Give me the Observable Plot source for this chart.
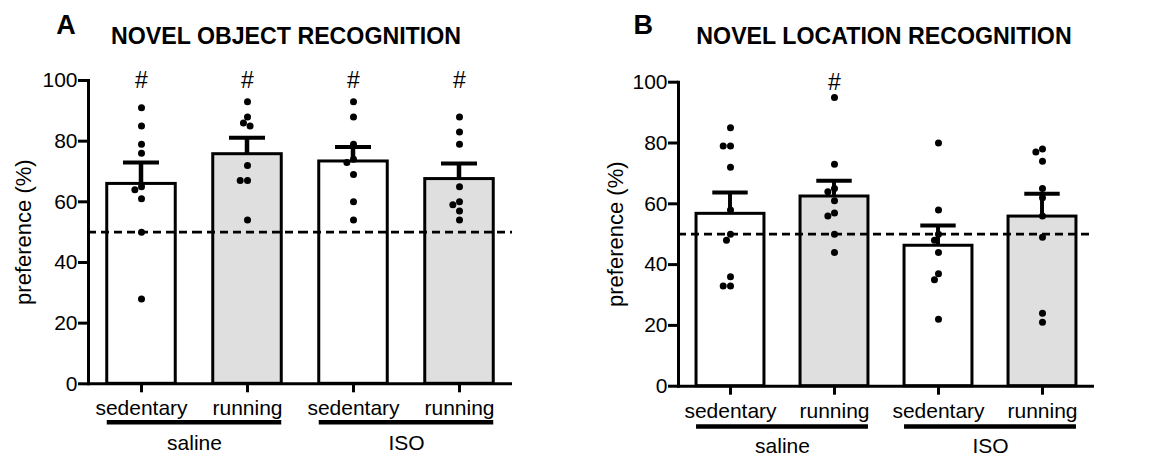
<!DOCTYPE html>
<html>
<head>
<meta charset="utf-8">
<script src="https://cdn.jsdelivr.net/npm/d3@7"></script>
<script src="https://cdn.jsdelivr.net/npm/@observablehq/plot@0.6"></script>
<style>
  body { margin: 0; background: #fff; }
  #root { position: relative; width: 1152px; height: 460px; overflow: hidden; font-family: "Liberation Sans", Arial, sans-serif; color: #000; }
  .t { position: absolute; white-space: nowrap; line-height: 1; font-weight: bold; text-align: center; width: 600px; }
  #pa { position: absolute; left: 0; top: 0; }
  #pb { position: absolute; left: 576px; top: 0; }
</style>
</head>
<body>
<div id="root">
  <div id="pa"></div>
  <div id="pb"></div>
  <div class="t" style="left:-234px; top:12.1px; font-size:27px;">A</div>
  <div class="t" style="left:-14px; top:25.4px; font-size:23.2px;">NOVEL OBJECT RECOGNITION</div>
  <div class="t" style="left:343.3px; top:12.1px; font-size:27px;">B</div>
  <div class="t" style="left:584px; top:25.4px; font-size:23.2px;">NOVEL LOCATION RECOGNITION</div>
</div>
<script>
// ---------- data ----------
const treatmentOf = ["saline", "saline", "ISO", "ISO"];
const exerciseOf = ["sedentary", "running", "sedentary", "running"];
const treatments = ["saline", "ISO"];
const yTicks = [0, 20, 40, 60, 80, 100];
const yLabel = "preference (%)";
const chanceLevel = [50];

// Panel A: novel object recognition
const norMeans = [65.9, 75.7, 73.3, 67.5];
const norSemTops = [73.0, 81.1, 78.1, 72.6];
const norMarks = ["#", "#", "#", "#"];
const norSalineSedentary = [91, 85, 79, 76, 65, 64, 61, 50, 28];
const norSalineRunning = [93, 88, 86, 85, 72, 67, 67, 54];
const norIsoSedentary = [93, 88, 79, 74, 73, 69, 60, 54];
const norIsoRunning = [88, 83, 79, 65, 60, 59, 57, 54];

// Panel B: novel location recognition
const nlrMeans = [56.7, 62.4, 46.2, 55.8];
const nlrSemTops = [63.7, 67.6, 52.9, 63.3];
const nlrMarks = ["", "#", "", ""];
const nlrSalineSedentary = [85, 79, 79, 72, 58, 50, 48, 36, 33, 33];
const nlrSalineRunning = [95, 73, 65, 64, 61, 57, 56, 50, 44];
const nlrIsoSedentary = [80, 58, 50, 48, 44, 37, 35, 22];
const nlrIsoRunning = [78, 77, 74, 65, 62, 56, 49, 24, 21];

// ---------- drawing ----------
const groupKeys = treatmentOf.map((t, i) => t + "|" + exerciseOf[i]);
const labelOf = new Map(groupKeys.map((k, i) => [k, exerciseOf[i]]));
const GRAY = "#dedfde";
const FONT = "'Liberation Sans', Arial, sans-serif";

function panel(el, cfg) {
  const stats = groupKeys.map((g, i) => ({
    group: g, exercise: exerciseOf[i], treatment: treatmentOf[i],
    mean: cfg.means[i], top: cfg.tops[i], mark: cfg.marks[i]
  }));
  const points = groupKeys.flatMap((g, i) => cfg.values[i].map(v => ({group: g, value: v})));
  const step = (cfg.width - cfg.marginLeft - cfg.marginRight) / groupKeys.length;
  const barInset = (step - 68.5) / 2;
  const errInset = (step - 4.5) / 2;
  const capInset = (step - 36) / 2;
  const firsts = stats.filter(d => d.exercise === "sedentary");
  const seconds = stats.filter(d => d.exercise === "running");

  const chart = Plot.plot({
    width: cfg.width,
    height: 460,
    marginLeft: cfg.marginLeft,
    marginRight: cfg.marginRight,
    marginTop: cfg.marginTop,
    marginBottom: cfg.marginBottom,
    style: {fontFamily: FONT, fontSize: "21px", color: "#000", background: "transparent", overflow: "visible"},
    fx: {domain: groupKeys, padding: 0, label: null},
    y: {domain: [0, 100], label: null},
    marks: [
      Plot.barY(firsts, {fx: "group", y1: 0, y2: "mean", fill: "#ffffff", stroke: "#000", strokeWidth: 3, insetLeft: barInset, insetRight: barInset}),
      Plot.barY(seconds, {fx: "group", y1: 0, y2: "mean", fill: GRAY, stroke: "#000", strokeWidth: 3, insetLeft: barInset, insetRight: barInset}),
      Plot.ruleY(chanceLevel, {stroke: "#000", strokeWidth: 2.8, strokeDasharray: "8,5"}),
      Plot.dot(points, Plot.dodgeX({anchor: "middle", padding: 0.3}, {fx: "group", y: "value", r: 3.5, fill: "#000", stroke: "none"})),
      Plot.barY(stats, {fx: "group", y1: "mean", y2: "top", fill: "#000", insetLeft: errInset, insetRight: errInset}),
      Plot.tickY(stats, {fx: "group", y: "top", stroke: "#000", strokeWidth: 4, insetLeft: capInset, insetRight: capInset}),
      Plot.text(stats, {fx: "group", y: 100, text: "mark", fontSize: 23, dy: 0, fill: "#000"}),
      Plot.ruleY([0], {stroke: "#000", strokeWidth: 3}),
      Plot.frame({anchor: "left", stroke: "#000", strokeWidth: 3, facetAnchor: "left"}),
      Plot.axisY({ticks: yTicks, tickSize: 10, tickPadding: 1, strokeWidth: 3, fontSize: 21, label: null, fill: "#000"}),
      Plot.axisFx({anchor: "bottom", tickSize: 9, tickPadding: 7.5, strokeWidth: 3, fontSize: 21, label: null, tickFormat: g => labelOf.get(g), fill: "#000"}),
      Plot.text([yLabel], {frameAnchor: "left", textAnchor: "middle", rotate: -90, dx: -cfg.yLabelOffset, fontSize: 22, fill: "#000", facetAnchor: "left"}),
      Plot.ruleY(firsts, {fx: "group", y: 0, dy: cfg.lineDy, stroke: "#000", strokeWidth: 4.6, insetLeft: barInset}),
      Plot.ruleY(seconds, {fx: "group", y: 0, dy: cfg.lineDy, stroke: "#000", strokeWidth: 4.6, insetRight: barInset}),
      Plot.text(firsts, {fx: "group", y: 0, dy: cfg.groupDy, frameAnchor: "right", textAnchor: "middle", text: "treatment", fontSize: 21, fill: "#000"})
    ]
  });
  document.getElementById(el).appendChild(chart);
}

panel("pa", {
  width: 576, marginLeft: 88, marginRight: 64, marginTop: 80, marginBottom: 76.7,
  means: norMeans, tops: norSemTops, marks: norMarks,
  values: [norSalineSedentary, norSalineRunning, norIsoSedentary, norIsoRunning],
  lineDy: 38.4, groupDy: 59, yLabelOffset: 65
});
panel("pb", {
  width: 576, marginLeft: 100.7, marginRight: 57, marginTop: 81.7, marginBottom: 74.3,
  means: nlrMeans, tops: nlrSemTops, marks: nlrMarks,
  values: [nlrSalineSedentary, nlrSalineRunning, nlrIsoSedentary, nlrIsoRunning],
  lineDy: 40.3, groupDy: 60.3, yLabelOffset: 63
});
</script>
</body>
</html>
